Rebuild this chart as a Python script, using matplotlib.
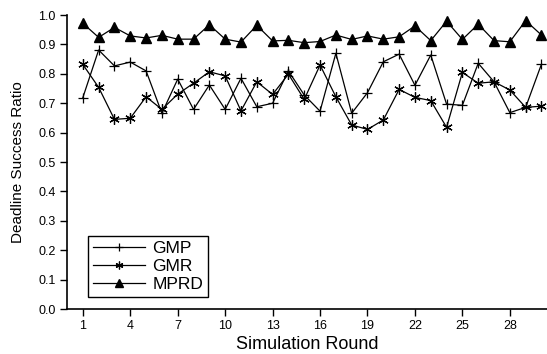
import matplotlib
matplotlib.use("Agg")
import matplotlib.pyplot as plt

plt.rcParams['font.family'] = ['Liberation Sans', 'DejaVu Sans']

rounds = list(range(1, 31))
gmp = [0.719, 0.881, 0.827, 0.840, 0.810, 0.666, 0.782, 0.679, 0.762, 0.679,
       0.785, 0.688, 0.700, 0.810, 0.728, 0.673, 0.870, 0.666, 0.736, 0.841,
       0.867, 0.761, 0.864, 0.697, 0.693, 0.836, 0.773, 0.668, 0.686, 0.833]
gmr = [0.832, 0.754, 0.645, 0.649, 0.722, 0.679, 0.731, 0.768, 0.807, 0.793,
       0.674, 0.773, 0.730, 0.799, 0.713, 0.830, 0.722, 0.626, 0.611, 0.643,
       0.747, 0.720, 0.709, 0.618, 0.805, 0.768, 0.773, 0.745, 0.686, 0.690]
mprd = [0.972, 0.924, 0.958, 0.929, 0.922, 0.931, 0.918, 0.918, 0.967, 0.918,
        0.908, 0.965, 0.912, 0.914, 0.906, 0.910, 0.932, 0.917, 0.929, 0.918,
        0.926, 0.963, 0.913, 0.979, 0.917, 0.969, 0.913, 0.909, 0.981, 0.932]
xticks = [1, 4, 7, 10, 13, 16, 19, 22, 25, 28]
yticks = [0.0, 0.1, 0.2, 0.3, 0.4, 0.5, 0.6, 0.7, 0.8, 0.9, 1.0]

fig = plt.figure(figsize=(5.47, 3.54), dpi=100)
ax = fig.add_axes([0.1225, 0.127, 0.8775, 0.8305])

ax.plot(rounds, gmp, color='black', lw=0.9, marker='+', ms=7, mew=0.9,
        label='GMP', clip_on=False)
ax.plot(rounds, gmr, color='black', lw=0.9, marker=(6, 2, 0), ms=7.5, mew=0.9,
        label='GMR', clip_on=False)
ax.plot(rounds, mprd, color='black', lw=0.9, marker='^', ms=7,
        label='MPRD', clip_on=False)

ax.set_xlim(0, 30.35)
ax.set_ylim(0, 1.0)
ax.set_xticks(xticks)
ax.set_yticks(yticks)
ax.set_yticklabels(['%.1f' % v for v in yticks])
ax.spines['top'].set_visible(False)
ax.spines['right'].set_visible(False)
for s in ['left', 'bottom']:
    ax.spines[s].set_linewidth(1.2)
ax.tick_params(direction='out', length=5, width=1.0, labelsize=9, pad=3)

ax.set_xlabel('Simulation Round', fontsize=13, labelpad=3)
ax.set_ylabel('Deadline Success Ratio', fontsize=11, labelpad=10)

leg = ax.legend(loc='lower left', bbox_to_anchor=(0.044, 0.041), borderaxespad=0,
                fancybox=False, edgecolor='black', framealpha=1, fontsize=12.5,
                handlelength=3.0, handletextpad=0.4, labelspacing=0.15,
                borderpad=0.3, markerscale=0.75)
leg.get_frame().set_linewidth(1.0)

fig.savefig('out.png', dpi=100)
